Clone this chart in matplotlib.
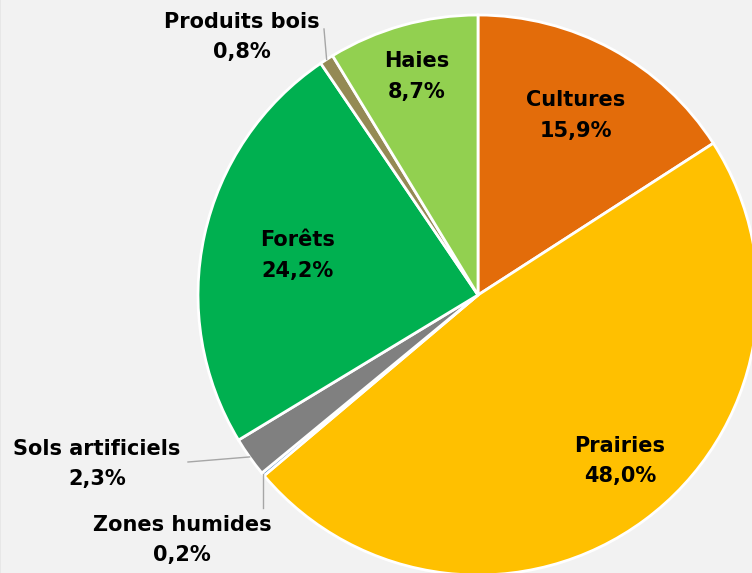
import numpy as np
import matplotlib.pyplot as plt
from matplotlib.patches import FancyBboxPatch

# data
labels = ['Cultures', 'Prairies', 'Zones humides', 'Sols artificiels', 'Forêts', 'Produits bois', 'Haies']
values = [15.9, 48.0, 0.2, 2.3, 24.2, 0.8, 8.7]
pct_text = ['15,9%', '48,0%', '0,2%', '2,3%', '24,2%', '0,8%', '8,7%']
colors = ['#E36C0A', '#FFC000', '#4F81BD', '#808080', '#00B050', '#948A54', '#92D050']

plt.rcParams['font.family'] = ['DejaVu Sans']

fig = plt.figure(figsize=(7.52, 5.73), dpi=100)
fig.patch.set_facecolor('white')

# rounded background box (only the bottom-left corner is visible)
bg = FancyBboxPatch((0.0, -0.5), 1.5, 1.6, boxstyle='round,pad=0,rounding_size=0.04',
                    transform=fig.transFigure, facecolor='#F2F2F2', edgecolor='#E0E0E0',
                    linewidth=0.8, zorder=0)
fig.patches.append(bg)

ax = fig.add_axes([0, 0, 1, 1])
ax.set_zorder(2)
ax.set_facecolor('none')
ax.axis('off')

# pixel mapping: pie centre at (478, 295), radius 280 px
cx, cy, R = 478, 295, 280

wedges, _ = ax.pie(values, colors=colors, startangle=90, counterclock=False,
                   radius=1.0, center=(0, 0),
                   wedgeprops=dict(edgecolor='white', linewidth=2.0))
ax.set_xlim((0 - cx) / R, (752 - cx) / R)
ax.set_ylim((573 - cy) / -R, (0 - cy) / -R)
ax.set_aspect('auto')

tfont = dict(fontsize=15, fontweight='bold', color='black', ha='center', va='center',
             linespacing=1.65)

# inside labels: radius factor per wedge
inside = {0: 0.73, 1: 0.78, 4: 0.66, 6: 0.81}
for i, w in enumerate(wedges):
    mid = np.deg2rad((w.theta1 + w.theta2) / 2)
    if i in inside:
        r = inside[i]
        off = 0.07 if i == 1 else 0.0
        ax.text(r * np.cos(mid + off), r * np.sin(mid + off),
                labels[i] + '\n' + pct_text[i], **tfont)

def edge_pt(i):
    w = wedges[i]
    mid = np.deg2rad((w.theta1 + w.theta2) / 2)
    return np.cos(mid), np.sin(mid)

def px(x, y):
    return (x - cx) / R, (cy - y) / R

line_kw = dict(color='#A6A6A6', linewidth=1.0, zorder=1)

# Produits bois
ex, ey = edge_pt(5)
lx, ly = px(324, 29)
ax.plot([ex, lx], [ey, ly], **line_kw)
ax.text(*px(242, 37), labels[5] + '\n' + pct_text[5], **tfont)

# Sols artificiels
ex, ey = edge_pt(3)
lx, ly = px(188, 462)
ax.plot([ex, lx], [ey, ly], **line_kw)
ax.text(*px(97, 464), labels[3] + '\n' + pct_text[3], **tfont)

# Zones humides
ex, ey = edge_pt(2)
lx, ly = px(263, 508)
ax.plot([ex, ex], [ey, ly], **line_kw)
ax.text(*px(182, 540), labels[2] + '\n' + pct_text[2], **tfont)

fig.savefig('out.png', dpi=100, facecolor=fig.get_facecolor())
